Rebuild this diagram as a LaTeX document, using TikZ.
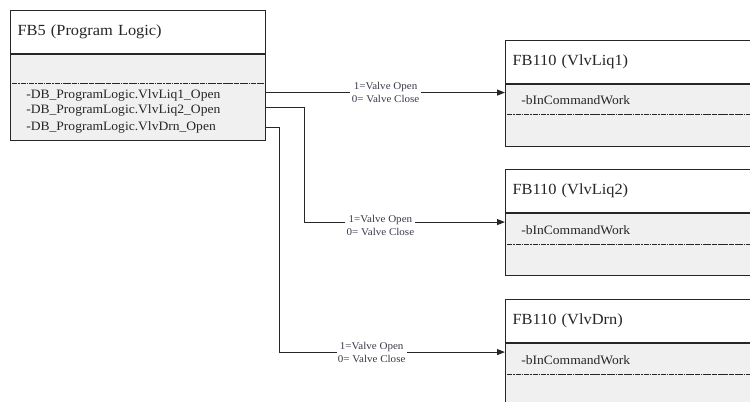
\documentclass[tikz,border=0pt]{standalone}
\usepackage{fontspec}
\setmainfont[FakeStretch=1.06]{Liberation Serif}
\usetikzlibrary{arrows.meta,calc,positioning}
\definecolor{panelgray}{HTML}{F0F0F0}
\definecolor{inkdark}{HTML}{262626}
\definecolor{notegray}{HTML}{3A3A4A}

\begin{document}
\begin{tikzpicture}[x=0.75pt,y=-0.75pt,
  hdr/.style={draw=inkdark,line width=0.8pt,fill=white,anchor=north west,minimum height=32.25pt,text width=180.75pt,inner xsep=5.25pt,align=left,font=\fontsize{11.6}{13}\selectfont,text=inkdark},
  panel/.style={draw=inkdark,line width=0.8pt,fill=panelgray,anchor=north west,minimum width=191.25pt,inner sep=0pt},
  item/.style={anchor=west,inner sep=0pt,font=\fontsize{9.6}{11}\selectfont,text=inkdark},
  sep/.style={draw=inkdark,line width=0.6pt,dash pattern=on 4pt off 0.6pt on 1.2pt off 0.6pt},
  conn/.style={draw=inkdark,line width=0.8pt,-{Triangle[length=6pt,width=4.5pt]}},
  note/.style={fill=white,inner sep=1pt,align=center,font=\fontsize{7.8}{9.75}\selectfont,text=notegray}]
  \useasboundingbox (0,0) rectangle (750,401);
  \clip (0,0) rectangle (750,401);

  % FB5 caller
  \node[hdr] (fbh) at (10,10) {FB5 (Program Logic)};
  \node[panel,minimum height=64.5pt] (fbb) at (fbh.south west) {};
  \draw[sep] ($(fbb.north west)+(2,29)$) -- ($(fbb.north east)+(-2,29)$);
  \node[item] (o1) at (26,95) {-DB\_ProgramLogic.VlvLiq1\_Open};
  \node[item] (o2) at (26,110.5) {-DB\_ProgramLogic.VlvLiq2\_Open};
  \node[item] (o3) at (26,127) {-DB\_ProgramLogic.VlvDrn\_Open};

  % FB110 instances
  \node[hdr] (v1h) at (505,39.5) {FB110 (VlvLiq1)};
  \node[panel,minimum height=46.5pt] (v1b) at (v1h.south west) {};
  \node[item] (w1) at ($(v1b.north west)+(16,17)$) {-bInCommandWork};
  \draw[sep] ($(v1b.north west)+(2,31)$) -- ($(v1b.north east)+(-2,31)$);

  \node[hdr] (v2h) at (505,169) {FB110 (VlvLiq2)};
  \node[panel,minimum height=46.5pt] (v2b) at (v2h.south west) {};
  \node[item] (w2) at ($(v2b.north west)+(16,17)$) {-bInCommandWork};
  \draw[sep] ($(v2b.north west)+(2,31)$) -- ($(v2b.north east)+(-2,31)$);

  \node[hdr] (v3h) at (505,299) {FB110 (VlvDrn)};
  \node[panel,minimum height=46.5pt] (v3b) at (v3h.south west) {};
  \node[item] (w3) at ($(v3b.north west)+(16,17)$) {-bInCommandWork};
  \draw[sep] ($(v3b.north west)+(2,31)$) -- ($(v3b.north east)+(-2,31)$);

  % connectors
  \coordinate (s1) at ($(fbb.north east)+(0,38.5)$);
  \coordinate (s2) at ($(fbb.north east)+(0,53.7)$);
  \coordinate (s3) at ($(fbb.north east)+(0,73.7)$);
  \coordinate (in1) at ($(v1b.north west)+(0,9)$);
  \coordinate (in2) at ($(v2b.north west)+(0,9)$);
  \coordinate (in3) at ($(v3b.north west)+(0,9)$);
  \draw[conn] (s1) -- node[note] {1=Valve Open\\0= Valve Close} (in1);
  \draw[conn] (s2) -- ++(38,0) coordinate (k2) -- (k2 |- in2) -- node[note,pos=0.38,yshift=-2.5pt] {1=Valve Open\\0= Valve Close} (in2);
  \draw[conn] (s3) -- ++(13,0) coordinate (k3) -- (k3 |- in3) -- node[note,pos=0.41] {1=Valve Open\\0= Valve Close} (in3);
\end{tikzpicture}
\end{document}
